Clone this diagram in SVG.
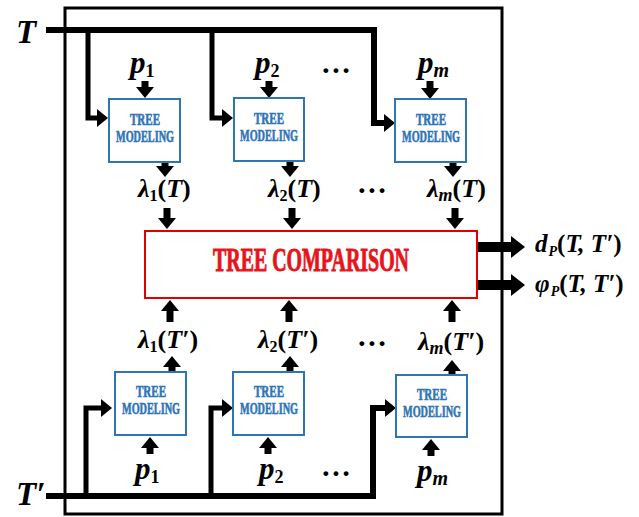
<svg xmlns="http://www.w3.org/2000/svg" width="639" height="517" viewBox="0 0 639 517">
<defs>
<style>
.frame{fill:none;stroke:#000;stroke-width:3}
.box{fill:#fff;stroke:#2E75B6;stroke-width:2}
.cmp{fill:#fff;stroke:#E00000;stroke-width:2}
.bt{font-family:"Liberation Serif",serif;font-weight:bold;font-size:16px;fill:#2E75B6;stroke:#2E75B6;stroke-width:0.6;text-anchor:middle}
.ct{font-family:"Liberation Serif",serif;font-weight:bold;font-size:34px;fill:#E8141B;stroke:#E8141B;stroke-width:1;text-anchor:middle}
.m{font-family:"Liberation Serif",serif;font-weight:bold;font-style:italic;fill:#000}
.up{font-style:normal}
.main{fill:none;stroke:#000;stroke-width:6;stroke-linejoin:miter}
.br{fill:none;stroke:#000;stroke-width:5;stroke-linejoin:miter}
.sa{fill:none;stroke:#000;stroke-width:7}
.oa{fill:none;stroke:#000;stroke-width:10}
</style>
<marker id="a" markerUnits="userSpaceOnUse" viewBox="0 0 11 18" markerWidth="11" markerHeight="18" refX="1" refY="9" orient="auto"><path d="M0,0 L11,9 L0,18 Z" fill="#000"/></marker>
<marker id="b" markerUnits="userSpaceOnUse" viewBox="0 0 14 22" markerWidth="14" markerHeight="22" refX="1" refY="11" orient="auto"><path d="M0,0 L14,11 L0,22 Z" fill="#000"/></marker>
</defs>
<rect width="639" height="517" fill="#fff"/>
<rect class="frame" x="65" y="8" width="437" height="506"/>

<g id="connectors">
<path class="main" d="M46,30 H374 V123 H385" marker-end="url(#a)"/>
<path class="br" d="M88,30 V118 H98" marker-end="url(#a)"/>
<path class="br" d="M212,30 V118 H223" marker-end="url(#a)"/>
<path class="main" d="M46,496 H373 V408 H386" marker-end="url(#a)"/>
<path class="br" d="M86,496 V408 H102" marker-end="url(#a)"/>
<path class="br" d="M211,496 V408 H223" marker-end="url(#a)"/>
<line class="sa" x1="145" y1="81" x2="145" y2="88" marker-end="url(#a)"/>
<line class="sa" x1="269" y1="81" x2="269" y2="88" marker-end="url(#a)"/>
<line class="sa" x1="430" y1="81" x2="430" y2="89" marker-end="url(#a)"/>
<line class="sa" x1="165" y1="162" x2="165" y2="167" marker-end="url(#a)"/>
<line class="sa" x1="290" y1="161" x2="290" y2="167" marker-end="url(#a)"/>
<line class="sa" x1="453" y1="162" x2="453" y2="167" marker-end="url(#a)"/>
<line class="sa" x1="167" y1="208" x2="167" y2="219" marker-end="url(#a)"/>
<line class="sa" x1="292" y1="208" x2="292" y2="219" marker-end="url(#a)"/>
<line class="sa" x1="455" y1="208" x2="455" y2="219" marker-end="url(#a)"/>
<line class="sa" x1="170" y1="322" x2="170" y2="310" marker-end="url(#a)"/>
<line class="sa" x1="289" y1="322" x2="289" y2="310" marker-end="url(#a)"/>
<line class="sa" x1="452" y1="322" x2="452" y2="310" marker-end="url(#a)"/>
<line class="sa" x1="172" y1="372" x2="172" y2="366" marker-end="url(#a)"/>
<line class="sa" x1="290" y1="372" x2="290" y2="366" marker-end="url(#a)"/>
<line class="sa" x1="452" y1="375" x2="452" y2="370" marker-end="url(#a)"/>
<line class="sa" x1="150" y1="454" x2="150" y2="447" marker-end="url(#a)"/>
<line class="sa" x1="268" y1="454" x2="268" y2="447" marker-end="url(#a)"/>
<line class="sa" x1="431" y1="456" x2="431" y2="449" marker-end="url(#a)"/>
<line class="oa" x1="477" y1="247" x2="512" y2="247" marker-end="url(#b)"/>
<line class="oa" x1="477" y1="285" x2="512" y2="285" marker-end="url(#b)"/>
</g>

<g id="tm1"><rect class="box" x="109" y="99" width="71" height="63"/><text class="bt" x="145" y="125" textLength="30" lengthAdjust="spacingAndGlyphs">TREE</text><text class="bt" x="145" y="142" textLength="58" lengthAdjust="spacingAndGlyphs">MODELING</text></g>
<g id="tm2"><rect class="box" x="234" y="98" width="70" height="63"/><text class="bt" x="269" y="124" textLength="30" lengthAdjust="spacingAndGlyphs">TREE</text><text class="bt" x="269" y="141" textLength="58" lengthAdjust="spacingAndGlyphs">MODELING</text></g>
<g id="tm3"><rect class="box" x="395" y="99" width="71" height="63"/><text class="bt" x="431" y="125" textLength="30" lengthAdjust="spacingAndGlyphs">TREE</text><text class="bt" x="431" y="142" textLength="58" lengthAdjust="spacingAndGlyphs">MODELING</text></g>
<g id="tm4"><rect class="box" x="115" y="372" width="71" height="63"/><text class="bt" x="151" y="397" textLength="30" lengthAdjust="spacingAndGlyphs">TREE</text><text class="bt" x="151" y="414" textLength="58" lengthAdjust="spacingAndGlyphs">MODELING</text></g>
<g id="tm5"><rect class="box" x="233" y="372" width="71" height="63"/><text class="bt" x="269" y="397" textLength="30" lengthAdjust="spacingAndGlyphs">TREE</text><text class="bt" x="269" y="414" textLength="58" lengthAdjust="spacingAndGlyphs">MODELING</text></g>
<g id="tm6"><rect class="box" x="396" y="375" width="71" height="62"/><text class="bt" x="432" y="400" textLength="30" lengthAdjust="spacingAndGlyphs">TREE</text><text class="bt" x="432" y="417" textLength="58" lengthAdjust="spacingAndGlyphs">MODELING</text></g>
<g id="comparison"><rect class="cmp" x="145" y="231" width="332" height="67"/><text class="ct" x="311" y="271" textLength="196" lengthAdjust="spacingAndGlyphs">TREE COMPARISON</text></g>

<g id="labels">
<text class="m" x="16" y="43" font-size="33">T</text>
<text class="m" x="16" y="505" font-size="33">T′</text>
<text class="m" x="130" y="73" font-size="31">p<tspan class="up" font-size="18" dy="4">1</tspan></text>
<text class="m" x="255" y="73" font-size="31">p<tspan class="up" font-size="18" dy="4">2</tspan></text>
<text class="m" x="418" y="73" font-size="31">p<tspan font-size="20" dy="4">m</tspan></text>
<text class="m" x="135" y="479" font-size="31">p<tspan class="up" font-size="18" dy="4">1</tspan></text>
<text class="m" x="259" y="479" font-size="31">p<tspan class="up" font-size="18" dy="4">2</tspan></text>
<text class="m" x="417" y="481" font-size="31">p<tspan font-size="20" dy="4">m</tspan></text>
<text class="m" x="322" y="73" font-size="30">…</text>
<text class="m" x="358" y="193" font-size="30">…</text>
<text class="m" x="358" y="346" font-size="30">…</text>
<text class="m" x="322" y="476" font-size="30">…</text>
<text class="m" x="138" y="197" font-size="26">λ<tspan class="up" font-size="16" dy="4">1</tspan><tspan class="up" dy="-4">(</tspan>T<tspan class="up">)</tspan></text>
<text class="m" x="268" y="197" font-size="26">λ<tspan class="up" font-size="16" dy="4">2</tspan><tspan class="up" dy="-4">(</tspan>T<tspan class="up">)</tspan></text>
<text class="m" x="427" y="197" font-size="26">λ<tspan font-size="18" dy="4">m</tspan><tspan class="up" dy="-4">(</tspan>T<tspan class="up">)</tspan></text>
<text class="m" x="138" y="348" font-size="26">λ<tspan class="up" font-size="16" dy="4">1</tspan><tspan class="up" dy="-4">(</tspan>T′<tspan class="up">)</tspan></text>
<text class="m" x="258" y="348" font-size="26">λ<tspan class="up" font-size="16" dy="4">2</tspan><tspan class="up" dy="-4">(</tspan>T′<tspan class="up">)</tspan></text>
<text class="m" x="418" y="350" font-size="26">λ<tspan font-size="18" dy="4">m</tspan><tspan class="up" dy="-4">(</tspan>T′<tspan class="up">)</tspan></text>
<text class="m" x="535" y="252" font-size="25">d<tspan font-size="14" dx="1" dy="4">P</tspan><tspan class="up" dy="-4">(</tspan>T, T′<tspan class="up">)</tspan></text>
<text class="m" x="535" y="292" font-size="25">φ<tspan font-size="14" dx="1" dy="4">P</tspan><tspan class="up" dy="-4">(</tspan>T, T′<tspan class="up">)</tspan></text>
</g>
</svg>
